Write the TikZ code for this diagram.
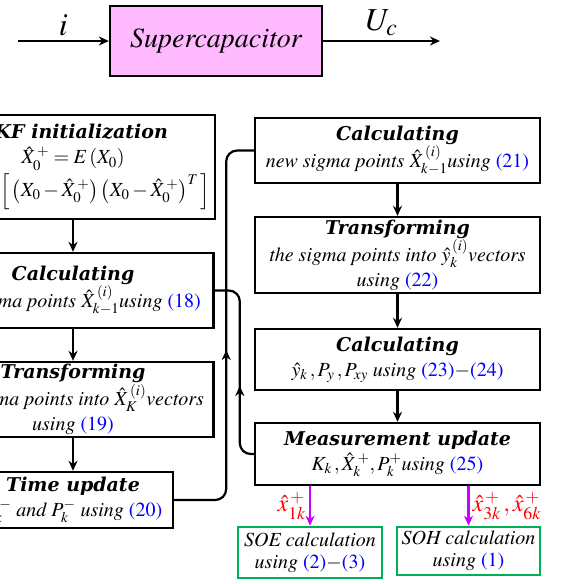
\documentclass[tikz,border=0pt]{standalone}
\usepackage{mathptmx}
\usepackage{fontspec}
\newfontfamily\headfont{DejaVu Serif}
\newcommand{\bodyfont}{\fontencoding{OT1}\fontfamily{ptm}\selectfont}
\usetikzlibrary{arrows.meta,positioning,decorations.markings}

\definecolor{scpink}{RGB}{255,185,255}
\definecolor{eqblue}{RGB}{0,0,255}
\definecolor{soxgreen}{RGB}{0,176,80}
\definecolor{estviolet}{RGB}{200,0,255}
\definecolor{estred}{RGB}{255,0,0}

\newcommand{\eqcite}[1]{\textcolor{eqblue}{\upshape(#1)}}
\newcommand{\stephead}[1]{{\headfont\bfseries\itshape\fontsize{19}{24}\selectfont #1}\\}

\tikzset{
  stepbox/.style={draw, line width=2.4pt, align=center, inner sep=1pt,
    font=\bodyfont\fontsize{20}{25}\selectfont\itshape},
  soxbox/.style={draw=soxgreen, line width=2.6pt, align=center, inner sep=1pt,
    font=\bodyfont\fontsize{20}{22}\selectfont\itshape},
  flow/.style={line width=2.2pt, -{Stealth[length=10pt,width=9pt]}},
  estflow/.style={flow, estviolet},
  fbloop/.style={line width=2.2pt, rounded corners=11pt},
  midup/.style={postaction={decorate}, decoration={markings,
    mark=at position #1 with {\arrow{Stealth[length=10pt,width=9pt]}}}},
}

\begin{document}
\begin{tikzpicture}[x=1pt, y=-1pt]
  \useasboundingbox (0,0) rectangle (570,584);
  \clip (0,0) rectangle (570,584);

  % plant
  \node[draw, line width=2.4pt, fill=scpink, minimum width=212pt, minimum height=70pt,
    font=\bodyfont\fontsize{28}{30}\selectfont\itshape] (sc) at (216,41) {Supercapacitor};
  \coordinate (cin) at (18,41);
  \coordinate (cout) at (440,41);
  \draw[flow, line width=1.8pt] (cin) -- node[above=1pt, font=\fontsize{32}{32}\selectfont] {$i$} (sc.west);
  \draw[flow, line width=1.8pt] (sc.east) -- node[above=1pt, font=\fontsize{32}{32}\selectfont] {$U_c$} (cout);

  % left column
  \node[stepbox, minimum width=284pt, minimum height=104pt] (init) at (73,167)
    {\stephead{UKF initialization}
     $\hat X_0^{\,+} = E\left(X_0\right)$\\[2pt]
     $P_0^{\,+} = E\Big[\left(X_0-\hat X_0^{\,+}\right)\left(X_0-\hat X_0^{\,+}\right)^T\Big]$};
  \node[stepbox, minimum width=281pt, minimum height=75pt] (calc1) at (73,290.5)
    {\stephead{Calculating}
     the sigma points $\hat X_{k-1}^{\,(i)}$using \eqcite{18}};
  \node[stepbox, minimum width=281pt, minimum height=75pt] (trans1) at (73,399.5)
    {\stephead{Transforming}
     the sigma points into $\hat X_K^{\,(i)}$vectors\\ using \eqcite{19}};
  \node[stepbox, minimum width=200pt, minimum height=56pt] (time) at (73,500)
    {\stephead{Time update}
     $\hat X_k^{\,-}$ and $P_k^-$ using \eqcite{20}};

  % right column
  \node[stepbox, minimum width=285pt, minimum height=65pt] (calc2) at (397.5,150.5)
    {\stephead{Calculating}
     new sigma points $\hat X_{k-1}^{\,(i)}$using \eqcite{21}};
  \node[stepbox, minimum width=285pt, minimum height=76pt] (trans2) at (397.5,255)
    {\stephead{Transforming}
     the sigma points into $\hat y_k^{\,(i)}$vectors\\ using \eqcite{22}};
  \node[stepbox, minimum width=285pt, minimum height=61pt] (calc3) at (397.5,359.5)
    {\stephead{Calculating}
     $\hat y_k\,, P_y\,, P_{xy}$ using \eqcite{23}$-$\eqcite{24}};
  \node[stepbox, minimum width=285pt, minimum height=62pt] (meas) at (397.5,454)
    {\stephead{Measurement update}
     $K_k\,, \hat X_k^{\,+}, P_k^+$using \eqcite{25}};

  % state of energy / health
  \node[soxbox, minimum width=144pt, minimum height=51pt] (soe) at (310,552.5)
    {SOE calculation\\ using \eqcite{2}$-$\eqcite{3}};
  \node[soxbox, minimum width=143pt, minimum height=48pt] (soh) at (468.5,551)
    {SOH calculation\\ using \eqcite{1}};

  \draw[flow] (init) -- (calc1);
  \draw[flow] (calc1) -- (trans1);
  \draw[flow] (trans1) -- (time);
  \draw[flow] (calc2) -- (trans2);
  \draw[flow] (trans2) -- (calc3);
  \draw[flow] (calc3) -- (meas);

  \draw[fbloop, midup=0.47] (time.east) -- ++(52,0) |- (calc2.west);
  \draw[fbloop, midup=0.4] (meas.west) -- ++(-14,0) |- (calc1.east);

  \draw[estflow] (soe.north |- meas.south) --
    node[left=2pt, estred, inner sep=1pt, font=\fontsize{24}{24}\selectfont] {$\hat x_{1k}^{\,+}$} (soe.north);
  \draw[estflow] (soh.north |- meas.south) --
    node[right=2pt, estred, inner sep=1pt, font=\fontsize{24}{24}\selectfont] {$\hat x_{3k}^{\,+}\,, \hat x_{6k}^{\,+}$} (soh.north);
\end{tikzpicture}
\end{document}
